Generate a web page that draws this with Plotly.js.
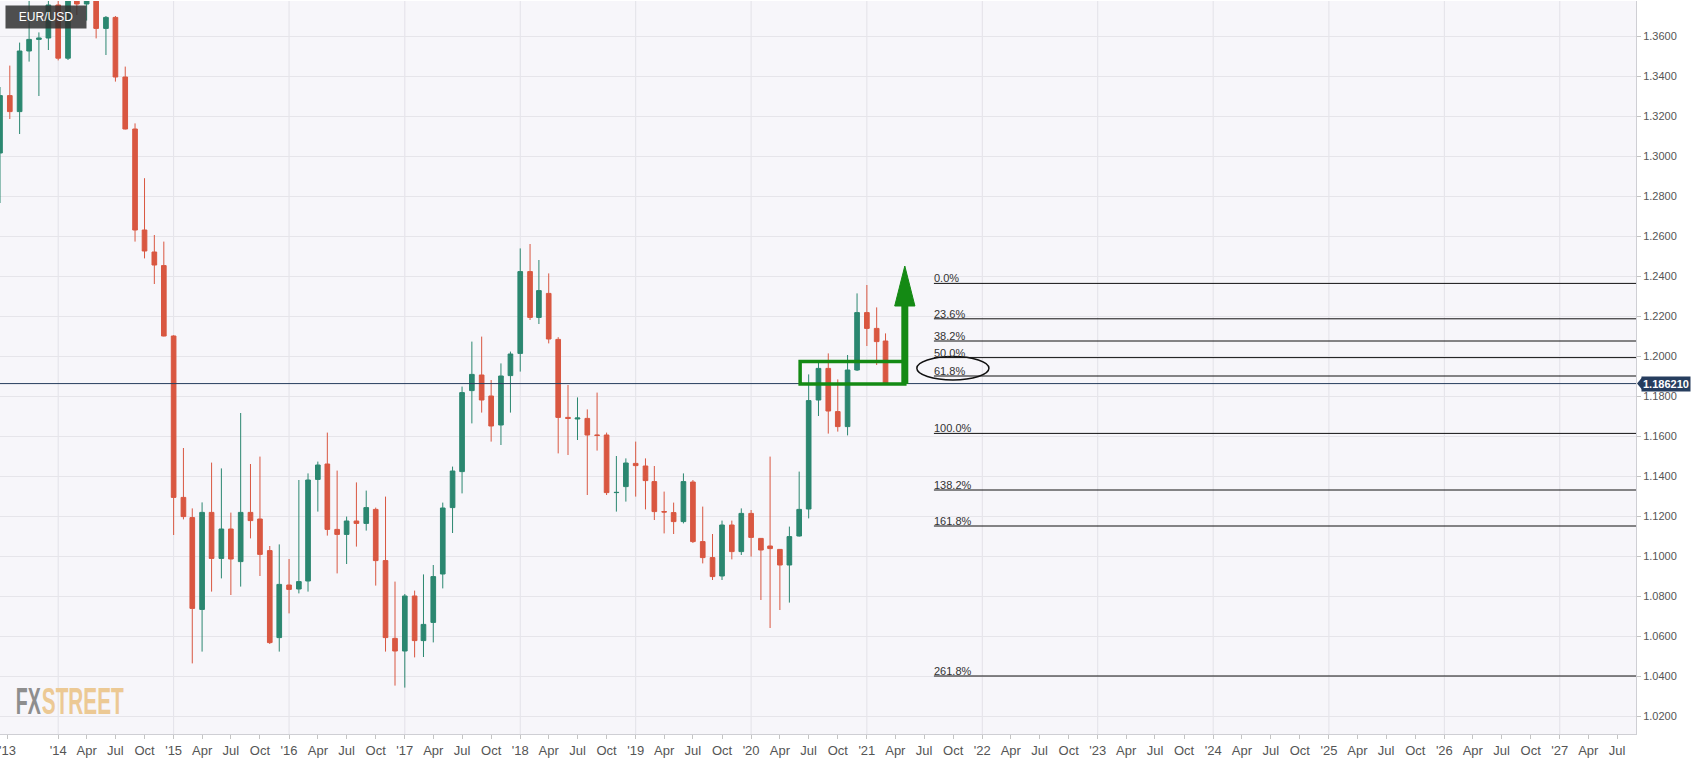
<!DOCTYPE html>
<html>
<head>
<meta charset="utf-8">
<script src="https://cdn.plot.ly/plotly-3.0.1.min.js"></script>
<style>
  html, body { margin: 0; padding: 0; background: #ffffff; }
  #chart { width: 1707px; height: 760px; }
</style>
</head>
<body>
<div id="chart"></div>
<script>
// ---- Monthly EUR/USD candles ----
const months = [
  '2013-07-01','2013-08-01','2013-09-01','2013-10-01','2013-11-01','2013-12-01',
  '2014-01-01','2014-02-01','2014-03-01','2014-04-01','2014-05-01','2014-06-01',
  '2014-07-01','2014-08-01','2014-09-01','2014-10-01','2014-11-01','2014-12-01',
  '2015-01-01','2015-02-01','2015-03-01','2015-04-01','2015-05-01','2015-06-01',
  '2015-07-01','2015-08-01','2015-09-01','2015-10-01','2015-11-01','2015-12-01',
  '2016-01-01','2016-02-01','2016-03-01','2016-04-01','2016-05-01','2016-06-01',
  '2016-07-01','2016-08-01','2016-09-01','2016-10-01','2016-11-01','2016-12-01',
  '2017-01-01','2017-02-01','2017-03-01','2017-04-01','2017-05-01','2017-06-01',
  '2017-07-01','2017-08-01','2017-09-01','2017-10-01','2017-11-01','2017-12-01',
  '2018-01-01','2018-02-01','2018-03-01','2018-04-01','2018-05-01','2018-06-01',
  '2018-07-01','2018-08-01','2018-09-01','2018-10-01','2018-11-01','2018-12-01',
  '2019-01-01','2019-02-01','2019-03-01','2019-04-01','2019-05-01','2019-06-01',
  '2019-07-01','2019-08-01','2019-09-01','2019-10-01','2019-11-01','2019-12-01',
  '2020-01-01','2020-02-01','2020-03-01','2020-04-01','2020-05-01','2020-06-01',
  '2020-07-01','2020-08-01','2020-09-01','2020-10-01','2020-11-01','2020-12-01',
  '2021-01-01','2021-02-01','2021-03-01'
];
const openP = [
  1.3015,1.3302,1.3222,1.3525,1.3583,1.3590,
  1.3755,1.3489,1.3801,1.3760,1.3868,1.3638,
  1.3693,1.3395,1.3135,1.2630,1.2520,1.2452,
  1.2100,1.1293,1.1192,1.0733,1.1218,1.0988,
  1.1135,1.0972,1.1218,1.1185,1.1027,1.0592,
  1.0855,1.0835,1.0875,1.1383,1.1460,1.1133,
  1.1108,1.1175,1.1163,1.1233,1.0977,1.0588,
  1.0525,1.0800,1.0577,1.0668,1.0910,1.1242,
  1.1422,1.1827,1.1905,1.1800,1.1655,1.1902,
  1.2013,1.2422,1.2193,1.2313,1.2083,1.1693,
  1.1685,1.1688,1.1605,1.1605,1.1317,1.1347,
  1.1463,1.1450,1.1372,1.1222,1.1217,1.1172,
  1.1370,1.1072,1.0992,1.0900,1.1155,1.1022,
  1.1213,1.1088,1.1050,1.1033,1.0955,1.1100,
  1.1235,1.1780,1.1938,1.1722,1.1647,1.1930,
  1.2217,1.2138,1.2075
];
const highP = [
  1.3345,1.3452,1.3567,1.3832,1.3618,1.3894,
  1.3775,1.3825,1.3967,1.3906,1.3993,1.3700,
  1.3700,1.3447,1.3163,1.2889,1.2605,1.2572,
  1.2104,1.1540,1.1238,1.1268,1.1467,1.1438,
  1.1217,1.1715,1.1460,1.1497,1.1050,1.1058,
  1.0985,1.1380,1.1413,1.1472,1.1617,1.1427,
  1.1197,1.1368,1.1327,1.1242,1.1297,1.0872,
  1.0810,1.0827,1.0908,1.0955,1.1267,1.1447,
  1.1847,1.2072,1.2097,1.1880,1.1963,1.2022,
  1.2538,1.2560,1.2480,1.2413,1.2094,1.1855,
  1.1793,1.1733,1.1817,1.1617,1.1500,1.1488,
  1.1572,1.1488,1.1450,1.1322,1.1267,1.1413,
  1.1380,1.1247,1.1110,1.1177,1.1177,1.1238,
  1.1230,1.1090,1.1497,1.1035,1.1147,1.1422,
  1.1908,1.1966,1.2013,1.1883,1.2005,1.2313,
  1.2355,1.2243,1.2113
];
const lowP = [
  1.2765,1.3185,1.3110,1.3472,1.3300,1.3530,
  1.3478,1.3480,1.3705,1.3677,1.3588,1.3505,
  1.3372,1.3133,1.2572,1.2488,1.2360,1.2098,
  1.1105,1.1183,1.0463,1.0522,1.0822,1.0888,
  1.0805,1.0847,1.1088,1.0900,1.0560,1.0522,
  1.0713,1.0813,1.0822,1.1222,1.1102,1.0913,
  1.0960,1.1047,1.1127,1.0852,1.0522,1.0352,
  1.0342,1.0493,1.0495,1.0568,1.0838,1.1115,
  1.1313,1.1663,1.1717,1.1572,1.1555,1.1717,
  1.1922,1.2180,1.2160,1.2063,1.1513,1.1505,
  1.1580,1.1305,1.1527,1.1305,1.1222,1.1272,
  1.1297,1.1233,1.1180,1.1113,1.1110,1.1163,
  1.1065,1.0963,1.0880,1.0880,1.0983,1.1005,
  1.0997,1.0780,1.0640,1.0730,1.0767,1.1097,
  1.1188,1.1700,1.1612,1.1622,1.1603,1.1925,
  1.2050,1.1955,1.1862
];
const closeP = [
  1.3302,1.3222,1.3525,1.3583,1.3590,1.3755,
  1.3489,1.3801,1.3760,1.3868,1.3638,1.3693,
  1.3395,1.3135,1.2630,1.2525,1.2455,1.2100,
  1.1293,1.1197,1.0738,1.1218,1.0988,1.1135,
  1.0985,1.1218,1.1177,1.1008,1.0567,1.0858,
  1.0833,1.0872,1.1380,1.1455,1.1133,1.1108,
  1.1175,1.1163,1.1242,1.0977,1.0592,1.0525,
  1.0800,1.0577,1.0658,1.0897,1.1240,1.1425,
  1.1817,1.1908,1.1780,1.1650,1.1900,1.2010,
  1.2422,1.2193,1.2327,1.2085,1.1693,1.1688,
  1.1690,1.1605,1.1603,1.1317,1.1318,1.1465,
  1.1452,1.1377,1.1222,1.1220,1.1172,1.1372,
  1.1072,1.0992,1.0897,1.1155,1.1022,1.1213,
  1.1093,1.1030,1.1037,1.0955,1.1097,1.1233,
  1.1777,1.1938,1.1725,1.1647,1.1930,1.2217,
  1.2138,1.2072,1.18621
];

// ---- Fibonacci levels ----
const fibLabels = ['0.0%','23.6%','38.2%','50.0%','61.8%','100.0%','138.2%','161.8%','261.8%'];
const fibPrices = [1.2363, 1.2186, 1.2075, 1.1992, 1.1900, 1.1613, 1.1330, 1.1150, 1.0400];
const fibStart = '2021-08-01';

// ---- Other marked values ----
const lastPrice = 1.18621;
const lastPriceLabel = '1.186210';
const zoneBox = { x0: '2020-06-04', x1: '2021-05-01', y0: 1.1860, y1: 1.1972 };
const arrowX = '2021-05-01', arrowHeadL = '2021-03-30', arrowHeadR = '2021-06-02';
const arrowBase = 1.1860, arrowNeck = 1.2250, arrowTip = 1.2450;
const ellipse = { x0: '2021-06-08', x1: '2022-01-22', y0: 1.1880, y1: 1.1997 };

// ---- Axis ticks ----
const tickYears = [2014,2015,2016,2017,2018,2019,2020,2021,2022,2023,2024,2025,2026,2027];
const quarterNames = ['Apr','Jul','Oct'];
const quarterMonths = ['04','07','10'];
const firstTick = { val: '2013-07-25', text: "'13" };
const xRange = ['2013-07-01', '2027-08-30'];
const yRange = [1.011, 1.3775];

const tickVals = [firstTick.val], tickText = [firstTick.text];
tickYears.forEach(y => {
  tickVals.push(y + '-01-01'); tickText.push("'" + String(y).slice(2));
  quarterNames.forEach((q, i) => {
    if (y === 2027 && i === 2) return;
    tickVals.push(y + '-' + quarterMonths[i] + '-01'); tickText.push(q);
  });
});

const GREEN = '#2b8770', RED = '#d95741', ZONE = '#148a14', NAVY = '#263d5e';

const candles = {
  type: 'candlestick',
  x: months, open: openP, high: highP, low: lowP, close: closeP,
  increasing: { line: { color: GREEN, width: 1 }, fillcolor: GREEN },
  decreasing: { line: { color: RED, width: 1 }, fillcolor: RED },
  whiskerwidth: 0,
  hoverinfo: 'skip',
  showlegend: false
};

const shapes = [];
// yearly vertical gridlines
tickYears.forEach(y => shapes.push({
  type: 'line', layer: 'below', xref: 'x', yref: 'paper',
  x0: y + '-01-01', x1: y + '-01-01', y0: 0, y1: 1,
  line: { color: '#e3e2e8', width: 1 }
}));
// fib lines
fibPrices.forEach(p => shapes.push({
  type: 'line', xref: 'x', yref: 'y', x0: fibStart, x1: xRange[1], y0: p, y1: p,
  line: { color: '#111111', width: 1 }
}));
// last price line
shapes.push({
  type: 'line', xref: 'paper', yref: 'y', x0: 0, x1: 1, y0: lastPrice, y1: lastPrice,
  line: { color: NAVY, width: 1 }
});
// green zone rectangle
shapes.push({
  type: 'rect', xref: 'x', yref: 'y', x0: zoneBox.x0, x1: zoneBox.x1, y0: zoneBox.y0, y1: zoneBox.y1,
  line: { color: ZONE, width: 3.5 }, fillcolor: 'rgba(0,0,0,0)'
});
// arrow shaft
shapes.push({
  type: 'line', xref: 'x', yref: 'y', x0: arrowX, x1: arrowX, y0: arrowBase, y1: arrowNeck,
  line: { color: ZONE, width: 7 }
});
// arrow head
shapes.push({
  type: 'path', xref: 'x', yref: 'y',
  path: 'M' + arrowHeadL + ',' + arrowNeck + ' L' + arrowX + ',' + arrowTip + ' L' + arrowHeadR + ',' + arrowNeck + ' Z',
  fillcolor: ZONE, line: { color: ZONE, width: 1 }
});
// ellipse around 61.8%
shapes.push({
  type: 'circle', xref: 'x', yref: 'y', x0: ellipse.x0, x1: ellipse.x1, y0: ellipse.y0, y1: ellipse.y1,
  line: { color: '#111111', width: 1.5 }
});
// notch of the price label
const yPaper = (lastPrice - yRange[0]) / (yRange[1] - yRange[0]);
shapes.push({
  type: 'path', xref: 'paper', yref: 'paper', xsizemode: 'pixel', ysizemode: 'pixel',
  xanchor: 1, yanchor: yPaper, path: 'M1,0 L6,6 L6,-6 Z',
  fillcolor: NAVY, line: { width: 0 }
});

const annotations = [];
fibLabels.forEach((t, i) => annotations.push({
  xref: 'x', yref: 'y', x: fibStart, y: fibPrices[i], text: t,
  xanchor: 'left', yanchor: 'bottom', showarrow: false, yshift: -2, xshift: -1,
  font: { family: 'Liberation Sans, Arial, sans-serif', size: 11, color: '#333333' },
  borderpad: 0
}));
annotations.push({
  xref: 'paper', yref: 'y', x: 1, y: lastPrice, xanchor: 'left', yanchor: 'middle', xshift: 5,
  text: '<b>' + lastPriceLabel + '</b>', showarrow: false, bgcolor: NAVY, borderpad: 1,
  font: { family: 'Liberation Sans, Arial, sans-serif', size: 11, color: '#ffffff' }
});
annotations.push({
  xref: 'paper', yref: 'paper', x: 0, y: 1, xanchor: 'left', yanchor: 'top', xshift: 5, yshift: -4,
  text: 'EUR/USD', showarrow: false, bgcolor: 'rgba(48,48,48,0.85)', width: 76, height: 18, borderpad: 2,
  font: { family: 'Liberation Sans, Arial, sans-serif', size: 12, color: '#ffffff' }
});
// logo: two words, each condensed to its width in the reference
const logoParts = [
  { text: 'FX', center: 28, width: 25, color: '#8e8e8e' },
  { text: 'STREET', center: 82.5, width: 82, color: '#ecc994' }
];
logoParts.forEach(p => annotations.push({
  xref: 'paper', yref: 'paper', x: p.center / 1636, y: 0.045, xanchor: 'center', yanchor: 'middle',
  text: '<b>' + p.text + '</b>', showarrow: false, borderpad: 0, width: p.width,
  font: { family: 'Liberation Sans, Arial, sans-serif', size: 37, color: p.color }
}));

const layout = {
  width: 1707, height: 760,
  margin: { l: 0, r: 71, t: 1, b: 26, pad: 0 },
  paper_bgcolor: '#ffffff',
  plot_bgcolor: '#f7f6fa',
  boxgap: 0.25,
  showlegend: false,
  xaxis: {
    type: 'date', range: xRange, rangeslider: { visible: false },
    tickmode: 'array', tickvals: tickVals, ticktext: tickText,
    ticks: 'outside', ticklen: 4, tickcolor: '#c4c4c4',
    ticklabeloverflow: 'allow',
    showgrid: false, zeroline: false,
    showline: true, linecolor: '#cfcfd4', linewidth: 1,
    tickfont: { family: 'Liberation Sans Narrow, Arial Narrow, sans-serif', size: 13, color: '#555555' },
    fixedrange: true
  },
  yaxis: {
    side: 'right', range: yRange, tick0: 1.0, dtick: 0.02, tickformat: '.4f',
    ticks: 'outside', ticklen: 4, tickcolor: '#c4c4c4',
    showgrid: true, gridcolor: '#e6e5ea', gridwidth: 1, zeroline: false,
    showline: true, linecolor: '#cfcfd4', linewidth: 1,
    tickfont: { family: 'Liberation Sans, Arial, sans-serif', size: 11, color: '#555555' },
    fixedrange: true
  },
  shapes: shapes,
  annotations: annotations
};

Plotly.newPlot('chart', [candles], layout, { displayModeBar: false, staticPlot: true }).then(() => {
  // condense the logo words to the widths they have in the reference
  document.querySelectorAll('#chart .annotation-text').forEach(t => {
    const part = logoParts.find(p => p.text === t.textContent);
    if (part) {
      t.setAttribute('textLength', String(part.width));
      t.setAttribute('lengthAdjust', 'spacingAndGlyphs');
    }
  });
});
</script>
</body>
</html>
